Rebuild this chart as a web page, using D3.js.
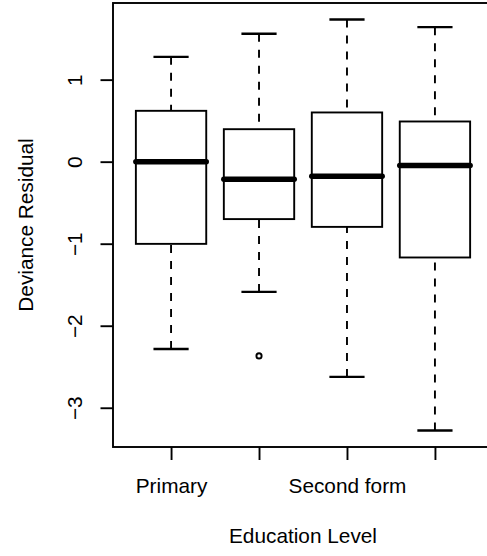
<!DOCTYPE html>
<html>
<head>
<meta charset="utf-8">
<script src="https://cdn.jsdelivr.net/npm/d3@7"></script>
<style>
  html, body { margin: 0; padding: 0; background: #fff; }
  svg { display: block; }
  text { font-family: "Liberation Sans", Arial, Helvetica, sans-serif; fill: #000; }
</style>
</head>
<body>
<script>
// Five-number summaries of deviance residuals per education level
const positions   = [1, 2, 3, 4];
const tickLabels  = ["Primary", "", "Second form", ""];
const whiskerLow  = [-2.283, -1.588, -2.624, -3.278];
const lowerHinge  = [-1.002, -0.700, -0.795, -1.168];
const medians     = [ 0.000, -0.213, -0.177, -0.046];
const upperHinge  = [ 0.620,  0.396,  0.600,  0.490];
const whiskerHigh = [ 1.278,  1.559,  1.734,  1.640];
const outliers    = [{ group: 2, value: -2.368 }];
const yTicks      = [-3, -2, -1, 0, 1];

const W = 487, H = 556;
const plot = { left: 113, right: 493, top: 3, bottom: 447 };

const svg = d3.select("body").append("svg")
  .attr("width", W).attr("height", H);

// Data range padded by 4% on each side, as in base graphics
const allVals = whiskerLow.concat(whiskerHigh, outliers.map(o => o.value));
const lo = d3.min(allVals), hi = d3.max(allVals);
const pad = 0.04 * (hi - lo);
const y = d3.scaleLinear().domain([lo - pad, hi + pad]).range([plot.bottom, plot.top]);

const xLo = 0.5, xHi = positions.length + 0.5, xPad = 0.04 * (xHi - xLo);
const x = d3.scaleLinear().domain([xLo - xPad, xHi + xPad]).range([plot.left, plot.right]);

const boxHalf = x(1.4) - x(1);     // box width 0.8
const stapleHalf = boxHalf / 2;
const lw = 1.9;
const fontSize = 20.8;

const groups = positions.map((p, i) => ({
  p, lowW: whiskerLow[i], q1: lowerHinge[i], med: medians[i], q3: upperHinge[i], highW: whiskerHigh[i]
}));

const g = svg.append("g");

// whiskers (dashed), drawn from the whisker ends toward the box
g.selectAll("line.whisk-lo").data(groups).join("line")
  .attr("x1", d => x(d.p)).attr("x2", d => x(d.p))
  .attr("y1", d => y(d.lowW)).attr("y2", d => y(d.q1))
  .attr("stroke", "#000").attr("stroke-width", lw).attr("stroke-dasharray", "8,8");
g.selectAll("line.whisk-hi").data(groups).join("line")
  .attr("x1", d => x(d.p)).attr("x2", d => x(d.p))
  .attr("y1", d => y(d.highW)).attr("y2", d => y(d.q3))
  .attr("stroke", "#000").attr("stroke-width", lw).attr("stroke-dasharray", "8,8");

// staples
["lowW", "highW"].forEach(k => {
  g.selectAll("line.staple-" + k).data(groups).join("line")
    .attr("x1", d => x(d.p) - stapleHalf).attr("x2", d => x(d.p) + stapleHalf)
    .attr("y1", d => y(d[k])).attr("y2", d => y(d[k]))
    .attr("stroke", "#000").attr("stroke-width", lw * 1.25);
});

// boxes
g.selectAll("rect.box").data(groups).join("rect")
  .attr("x", d => x(d.p) - boxHalf).attr("width", 2 * boxHalf)
  .attr("y", d => y(d.q3)).attr("height", d => y(d.q1) - y(d.q3))
  .attr("fill", "none").attr("stroke", "#000").attr("stroke-width", lw);

// medians
g.selectAll("line.median").data(groups).join("line")
  .attr("x1", d => x(d.p) - boxHalf).attr("x2", d => x(d.p) + boxHalf)
  .attr("y1", d => y(d.med)).attr("y2", d => y(d.med))
  .attr("stroke", "#000").attr("stroke-width", lw * 2.9).attr("stroke-linecap", "round");

// outliers
g.selectAll("circle.out").data(outliers).join("circle")
  .attr("cx", d => x(d.group)).attr("cy", d => y(d.value)).attr("r", 2.6)
  .attr("fill", "none").attr("stroke", "#000").attr("stroke-width", lw);

// frame
svg.append("rect")
  .attr("x", plot.left).attr("y", plot.top)
  .attr("width", plot.right - plot.left).attr("height", plot.bottom - plot.top)
  .attr("fill", "none").attr("stroke", "#000").attr("stroke-width", lw);

// y axis: ticks with rotated labels
const yAxis = d3.axisLeft(y).tickValues(yTicks).tickSize(12.5).tickSizeOuter(0)
  .tickFormat(d => d3.format("d")(d).replace("-", "\u2212"));
const ya = svg.append("g").attr("transform", `translate(${plot.left},0)`).call(yAxis);
ya.select(".domain").remove();
ya.selectAll(".tick line").attr("stroke-width", lw);
ya.selectAll(".tick text")
  .attr("x", null).attr("dy", null)
  .attr("transform", "translate(-31,0) rotate(-90)")
  .attr("text-anchor", "middle")
  .attr("font-size", fontSize).attr("font-family", null);

// x axis
const xAxis = d3.axisBottom(x).tickValues(positions).tickSize(13).tickSizeOuter(0)
  .tickFormat((d, i) => tickLabels[i]);
const xa = svg.append("g").attr("transform", `translate(0,${plot.bottom})`).call(xAxis);
xa.select(".domain").remove();
xa.selectAll(".tick line").attr("stroke-width", lw);
xa.selectAll(".tick text")
  .attr("y", 46).attr("dy", null)
  .attr("font-size", fontSize).attr("font-family", null);

// axis titles
svg.append("text")
  .attr("x", (plot.left + plot.right) / 2).attr("y", 543)
  .attr("text-anchor", "middle").attr("font-size", fontSize)
  .text("Education Level");
svg.append("text")
  .attr("transform", `translate(33,${(plot.top + plot.bottom) / 2}) rotate(-90)`)
  .attr("text-anchor", "middle").attr("font-size", fontSize)
  .text("Deviance Residual");
</script>
</body>
</html>
